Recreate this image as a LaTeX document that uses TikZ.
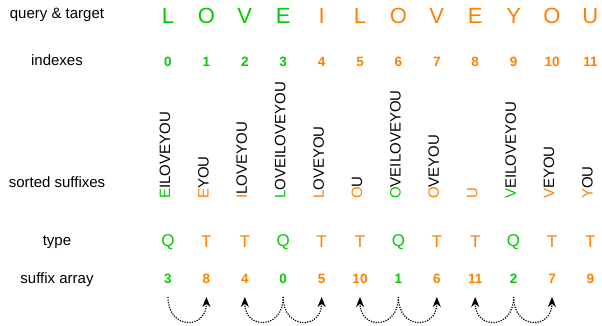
\documentclass[tikz,border=0pt]{standalone}
\usepackage{fontspec}
\setmainfont{Liberation Sans}
\usetikzlibrary{arrows.meta}
\definecolor{qgreen}{RGB}{0,204,0}
\definecolor{torange}{RGB}{255,128,0}
\begin{document}
\begin{tikzpicture}[x=1pt,y=-1pt,
  lbl/.style={font=\fontsize{15}{18}\selectfont, inner sep=0pt},
  bigletter/.style={font=\fontsize{22}{26}\selectfont, inner sep=0pt},
  num/.style={font=\fontsize{13.5}{16}\selectfont\bfseries, inner sep=0pt},
  typ/.style={font=\fontsize{17}{20}\selectfont, inner sep=0pt},
  suf/.style={font=\fontsize{15}{18}\selectfont, inner sep=0pt, rotate=90, anchor=west},
  jump/.style={dash pattern=on 1.2pt off 1.3pt, line width=1.2pt, -{Stealth[length=10pt,width=8pt]}}
]
\useasboundingbox (0,0) rectangle (602,325);
% row labels
\node[lbl] (lq) at (57,15) {query \& target};
\node[lbl] (li) at (57,60) {indexes};
\node[lbl] (ls) at (57,182) {sorted suffixes};
\node[lbl] (lt) at (57,242) {type};
\node[lbl] (la) at (57,280) {suffix array};
% query & target, indexes
\foreach \ch [count=\i from 0] in {L,O,V,E,I,L,O,V,E,Y,O,U} {
  \pgfmathsetmacro{\xx}{168+38.4*\i}
  \ifnum\i<4 \def\cc{qgreen}\else\def\cc{torange}\fi
  \node[bigletter, text=\cc] (q\i) at (\xx,16) {\ch};
  \node[num, text=\cc] (i\i) at (\xx,62) {\i};
}
% sorted suffixes, type, suffix array
\foreach \first/\rest/\t/\sa [count=\i from 0] in {
  E/ILOVEYOU/Q/3, E/YOU/T/8, I/LOVEYOU/T/4, L/OVEILOVEYOU/Q/0,
  L/OVEYOU/T/5, O/U/T/10, O/VEILOVEYOU/Q/1, O/VEYOU/T/6,
  U//T/11, V/EILOVEYOU/Q/2, V/EYOU/T/7, Y/OU/T/9} {
  \pgfmathsetmacro{\xx}{168+38.4*\i}
  \if Q\t \def\cc{qgreen}\else\def\cc{torange}\fi
  \node[suf] (s\i) at (\xx-3,199) {\textcolor{\cc}{\first}\rest};
  \node[typ, text=\cc] (t\i) at (\xx,242) {\t};
  \node[num, text=\cc] (a\i) at (\xx,279) {\sa};
  \coordinate (p\i) at (\xx,297);
}
% connectors
\foreach \f/\g in {0/1,3/2,3/4,6/5,6/7,9/8,9/10} {
  \draw[jump] (p\f) .. controls ([yshift=-33pt]p\f) and ([yshift=-33pt]p\g) .. (p\g);
}
\end{tikzpicture}
\end{document}
